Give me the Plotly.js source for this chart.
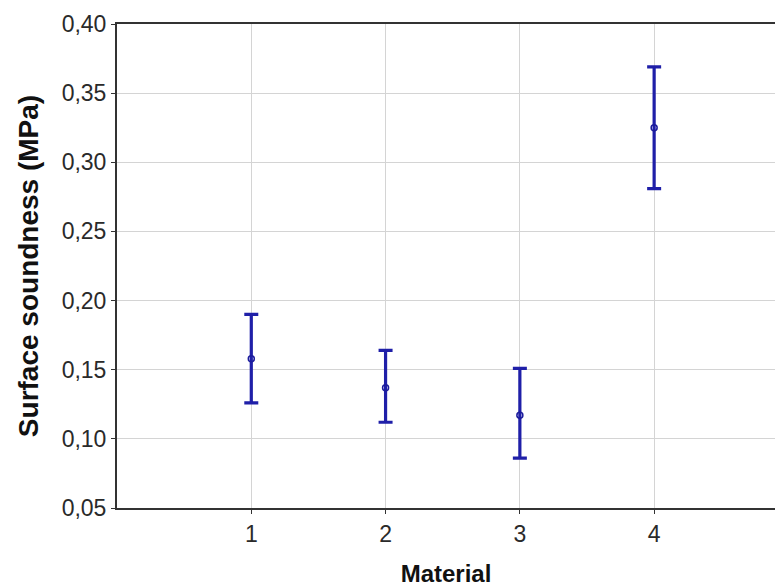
<!DOCTYPE html>
<html>
<head>
<meta charset="utf-8">
<script src="https://cdn.plot.ly/plotly-3.0.1.min.js"></script>
<style>html,body{margin:0;padding:0;background:#fff;}#chart{width:775px;height:587px;}</style>
</head>
<body>
<div id="chart"></div>
<script>
const materials = [1, 2, 3, 4];
const means = [0.158, 0.137, 0.117, 0.325];
const upper = [0.190, 0.164, 0.151, 0.369];
const lower = [0.126, 0.112, 0.086, 0.281];
const yTicks = [0.05, 0.10, 0.15, 0.20, 0.25, 0.30, 0.35, 0.40];
const xTicks = [1, 2, 3, 4];

const errPlus = upper.map((u, i) => u - means[i]);
const errMinus = lower.map((l, i) => means[i] - l);

const trace = {
  x: materials,
  y: means,
  type: 'scatter',
  mode: 'markers',
  marker: {symbol: 'circle-open', size: 6, color: '#1c1c9c', line: {width: 1.5, color: '#1c1c9c'}},
  error_y: {
    type: 'data', symmetric: false,
    array: errPlus, arrayminus: errMinus,
    color: '#1f1fa8', thickness: 3.2, width: 7
  },
  showlegend: false
};

const layout = {
  width: 775, height: 587,
  margin: {l: 117, r: 0, t: 24, b: 79},
  paper_bgcolor: '#fff', plot_bgcolor: '#fff',
  separators: ',.',
  font: {family: 'Liberation Sans, Arial, sans-serif', color: '#222'},
  xaxis: {
    range: [0, 4.9],
    tickvals: xTicks,
    ticktext: xTicks.map(String),
    tickfont: {size: 23, color: '#2a2a2a'},
    showgrid: true, gridcolor: '#d4d4d4', gridwidth: 1,
    zeroline: false,
    showline: true, linecolor: '#333', linewidth: 2, mirror: true,
    ticks: 'outside', ticklen: 4, tickcolor: '#333',
    title: {text: '<b>Material</b>', font: {size: 24, family: 'Liberation Sans, Arial, sans-serif', color: '#111'}, standoff: 21}
  },
  yaxis: {
    range: [0.05, 0.40],
    tickvals: yTicks,
    tickformat: '.2f',
    tickfont: {size: 23, color: '#2a2a2a'},
    showgrid: true, gridcolor: '#d4d4d4', gridwidth: 1,
    zeroline: false,
    showline: true, linecolor: '#333', linewidth: 2,
    ticks: 'outside', ticklen: 4, tickcolor: '#333',
    title: {text: '<b>Surface soundness (MPa)</b>', font: {size: 28, family: 'Liberation Sans, Arial, sans-serif', color: '#111'}, standoff: 15}
  }
};

Plotly.newPlot('chart', [trace], layout, {displayModeBar: false, staticPlot: true});
</script>
</body>
</html>
